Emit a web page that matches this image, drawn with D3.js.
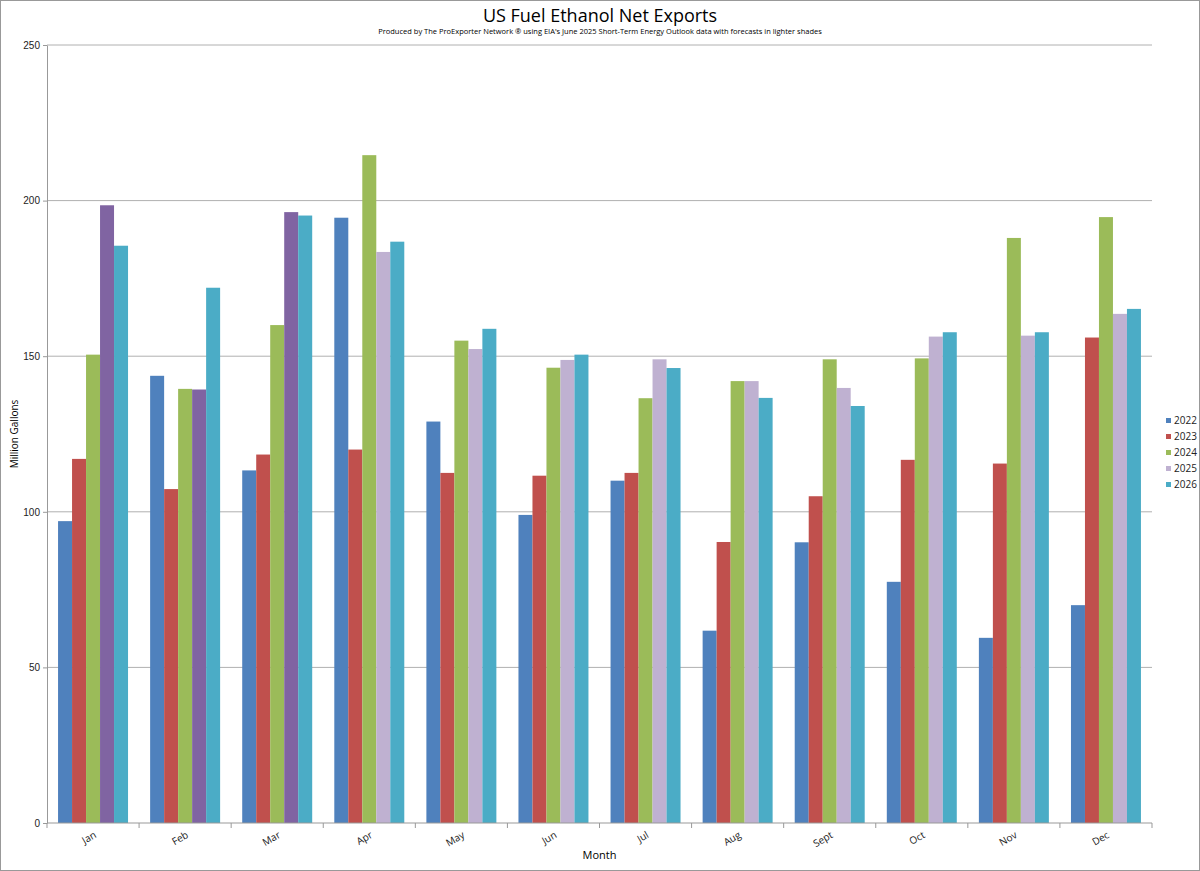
<!DOCTYPE html>
<html><head><meta charset="utf-8">
<script src="https://cdn.jsdelivr.net/npm/d3@7"></script>
<style>body{margin:0;background:#fff}svg{font-family:"Liberation Sans Narrow","Open Sans",sans-serif}</style>
</head><body><svg id="c" width="1200" height="871"></svg>
<script>
const months=["Jan","Feb","Mar","Apr","May","Jun","Jul","Aug","Sept","Oct","Nov","Dec"];
const years=["2022","2023","2024","2025","2026"];
const v2022=[97,143.7,113.3,194.5,129,99,110,61.8,90.2,77.5,59.5,70];
const v2023=[117,107.3,118.4,120,112.5,111.6,112.5,90.3,105,116.7,115.5,156];
const v2024=[150.5,139.5,160,214.6,155,146.3,136.5,142,149,149.3,188,194.7];
const v2025=[198.5,139.3,196.3,183.5,152.3,148.8,149,142,139.8,156.3,156.6,163.6];
const v2026=[185.5,172,195.2,186.8,158.8,150.5,146.2,136.6,134,157.7,157.7,165.2];
const actual2025=3; // months of 2025 that are actual (darker)
const yTicks=[0,50,100,150,200,250];
const colors={"2022":"#4f81bd","2023":"#c0504d","2024":"#9bbb59","2025":"#bfb1d1","2026":"#4bacc6"};
const series=[v2022,v2023,v2024,v2025,v2026];
const svg=d3.select("#c");
const L=47,R=1152,T=45,B=823;
svg.append("rect").attr("x",0.5).attr("y",0.5).attr("width",1199).attr("height",870).attr("fill","none").attr("stroke","#999");
const x=d3.scaleBand().domain(months).range([L,R]).paddingInner(0.24).paddingOuter(0.12);
const xi=d3.scaleBand().domain(years).range([0,x.bandwidth()]);
const y=d3.scaleLinear().domain([0,250]).range([B,T]);
svg.append("g").selectAll("line").data(yTicks.slice(1)).join("line").attr("x1",L).attr("x2",R).attr("y1",d=>y(d)).attr("y2",d=>y(d)).attr("stroke","#b0b0b0");
const ya=svg.append("g").attr("transform",`translate(${L},0)`).call(d3.axisLeft(y).tickValues(yTicks).tickSize(4).tickSizeOuter(0));
ya.select(".domain").attr("stroke","#999");ya.selectAll("line").attr("stroke","#999");ya.selectAll("text").attr("font-size",10).attr("fill","#222");
months.forEach((m,i)=>{
  series.forEach((s,j)=>{
    let c=colors[years[j]];
    if(j===3&&i<actual2025)c="#8064a2";
    svg.append("rect").attr("x",x(m)+xi(years[j])).attr("width",xi.bandwidth()).attr("y",y(s[i])).attr("height",B-y(s[i])).attr("fill",c);
  });
});
// x axis
svg.append("line").attr("x1",L).attr("x2",R).attr("y1",B).attr("y2",B).attr("stroke","#999");
const step=x.step();
const bounds=d3.range(13).map(i=>L+i*(R-L)/12);
svg.append("g").selectAll("line").data(bounds).join("line").attr("x1",d=>d).attr("x2",d=>d).attr("y1",B).attr("y2",B+5).attr("stroke","#999");
svg.append("g").selectAll("text").data(months).join("text")
 .attr("transform",d=>`translate(${x(d)+x.bandwidth()/2+4},${B+14}) rotate(-30)`)
 .attr("text-anchor","end").attr("font-size",10).attr("fill","#222").text(d=>d);
svg.append("text").attr("x",(L+R)/2).attr("y",859).attr("text-anchor","middle").attr("font-size",11).text("Month");
svg.append("text").attr("transform",`translate(18,${(T+B)/2}) rotate(-90)`).attr("text-anchor","middle").attr("font-size",10).text("Million Gallons");
svg.append("text").attr("x",600).attr("y",22).attr("text-anchor","middle").attr("font-size",18).text("US Fuel Ethanol Net Exports");
svg.append("text").attr("x",600).attr("y",34).attr("text-anchor","middle").attr("font-size",7.5).text("Produced by The ProExporter Network ® using EIA's June 2025 Short-Term Energy Outlook data with forecasts in lighter shades");
const lg=svg.append("g").selectAll("g").data(years).join("g").attr("transform",(d,i)=>`translate(1166,${418+i*16})`);
lg.append("rect").attr("width",5).attr("height",5).attr("y",0).attr("fill",d=>colors[d]);
lg.append("text").attr("x",8).attr("y",6).attr("font-size",10).attr("fill","#222").text(d=>d);
</script></body></html>
